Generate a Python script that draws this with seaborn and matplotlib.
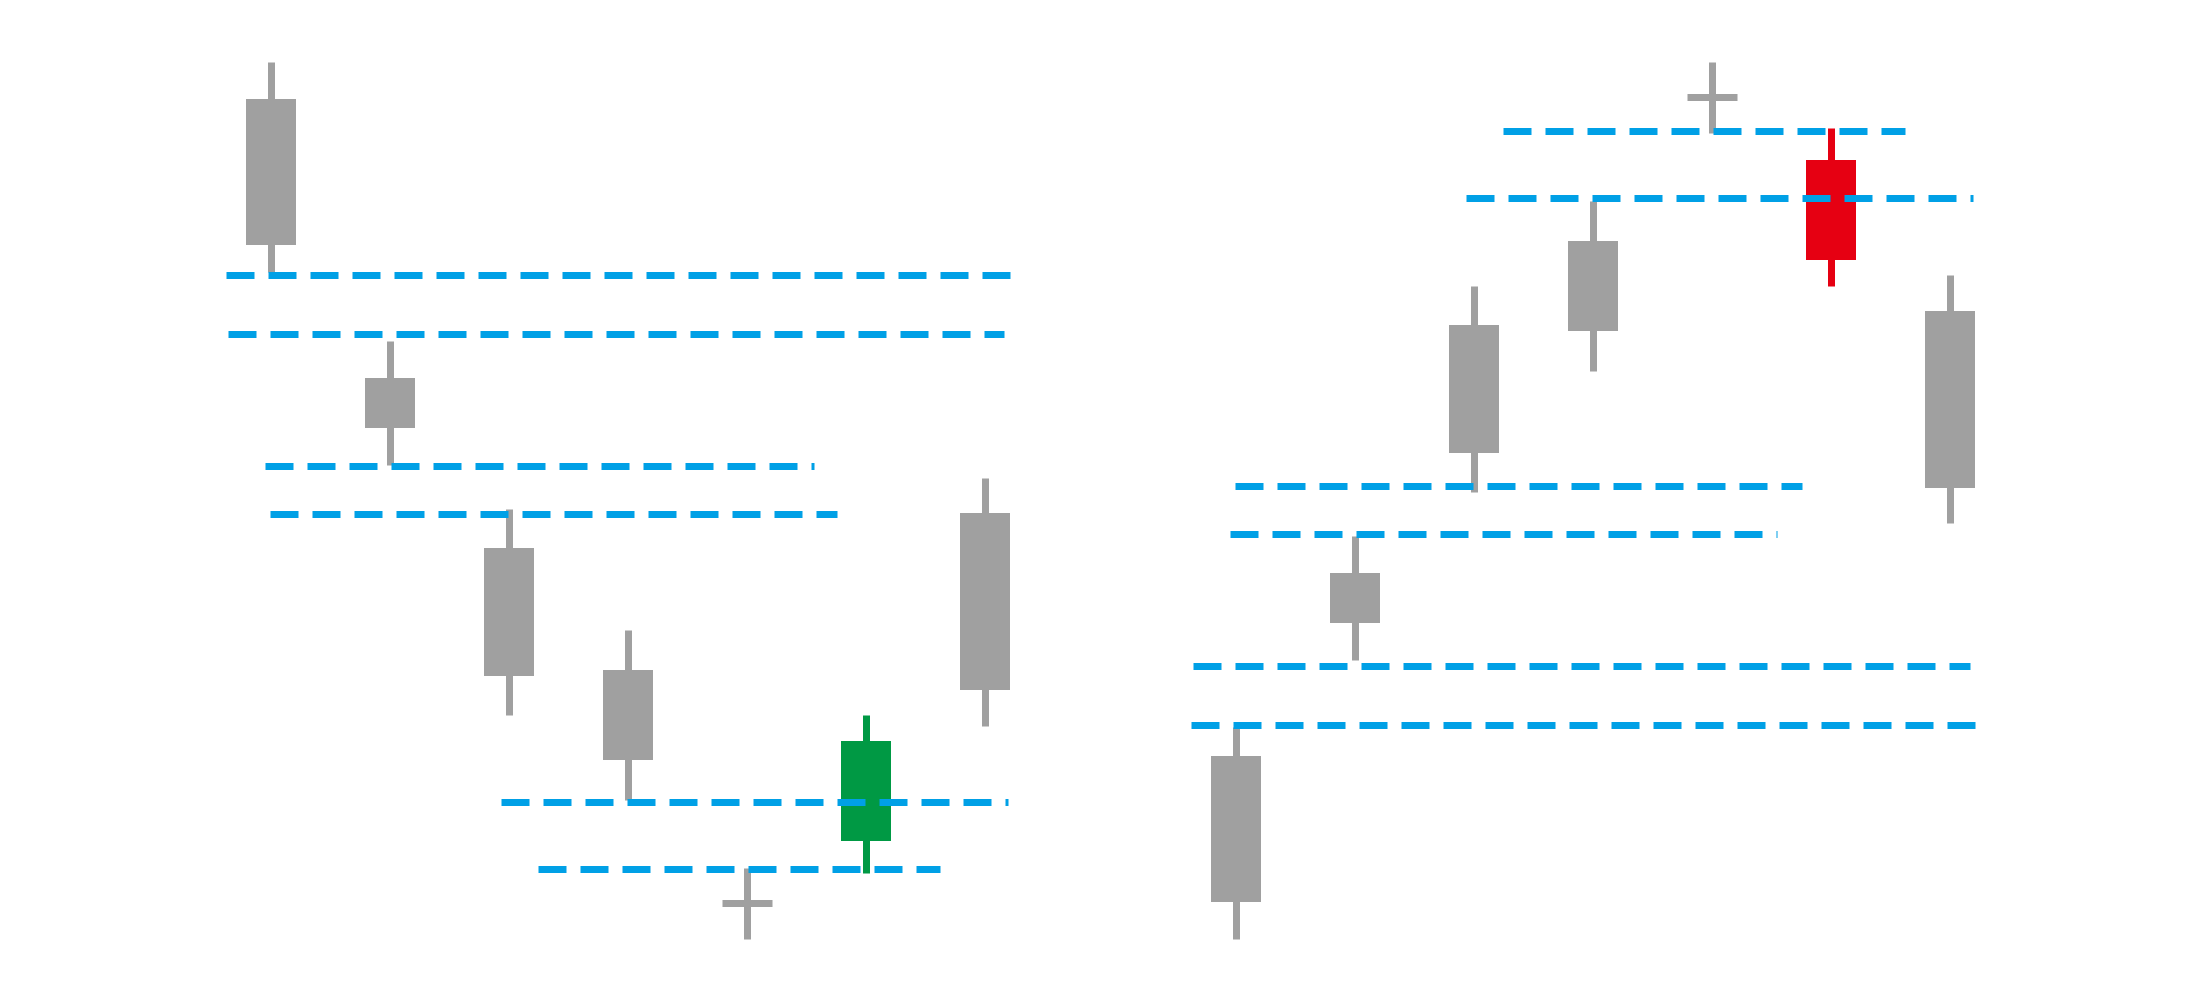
import matplotlib
matplotlib.use("Agg")
import matplotlib.pyplot as plt
import seaborn as sns
import pandas as pd

sns.set_theme(style="white")
plt.rcParams['font.family'] = ['DejaVu Sans']

# ---- data (price units) ----
left_open  = [90.1, 62.2, 45.2, 33.0, 9.7, 15.9, 48.7]
left_close = [75.5, 57.2, 32.4, 24.0, 9.7, 25.9, 31.0]
left_high  = [93.8, 65.9, 49.1, 37.0, 13.2, 28.5, 52.2]
left_low   = [72.8, 53.5, 28.5, 20.0, 6.1, 12.7, 27.4]
left_kind  = ["neutral", "neutral", "neutral", "neutral", "neutral", "up", "neutral"]

right_open  = [9.8, 37.7, 54.7, 66.9, 90.3, 84.0, 51.2]
right_close = [24.4, 42.7, 67.5, 75.9, 90.3, 74.0, 68.9]
right_high  = [27.3, 46.4, 71.4, 79.9, 93.8, 87.2, 72.5]
right_low   = [6.1, 34.0, 50.8, 62.9, 86.7, 71.4, 47.7]
right_kind  = ["neutral", "neutral", "neutral", "neutral", "neutral", "down", "neutral"]

left_levels      = [72.5, 66.6, 53.4, 48.6, 19.8, 13.1]
left_level_from  = [-0.38, -0.36, -0.05, -0.01, 1.93, 2.24]
left_level_to    = [6.21, 6.16, 4.56, 4.76, 6.19, 5.62]

right_levels     = [86.9, 80.2, 51.4, 46.6, 33.4, 27.5]
right_level_from = [2.24, 1.93, -0.01, -0.05, -0.36, -0.38]
right_level_to   = [5.62, 6.19, 4.76, 4.55, 6.17, 6.21]

colors = {"neutral": "#A0A0A0", "up": "#009944", "down": "#E60012"}
level_color = "#00A0E6"

fig = plt.figure(figsize=(22, 10), dpi=100)
ax_l = fig.add_axes([0, 0, 0.5, 1])
ax_r = fig.add_axes([0.5, 0, 0.5, 1])

LW = 5.04  # ~7 px
BODY_W = 0.42


def draw(ax, o, c, h, l, kind, lv, lf, lt):
    df = pd.DataFrame({"idx": range(len(o)), "open": o, "close": c,
                       "high": h, "low": l, "kind": kind})
    for _, r in df.iterrows():
        col = colors[r["kind"]]
        ax.vlines(r["idx"], r["low"], r["high"], colors=col, linewidth=LW,
                  capstyle="butt", zorder=2)
        lo, hi = min(r["open"], r["close"]), max(r["open"], r["close"])
        if hi - lo < 0.5:
            ax.hlines(lo, r["idx"] - BODY_W / 2, r["idx"] + BODY_W / 2,
                      colors=col, linewidth=LW, capstyle="butt", zorder=2)
        else:
            ax.bar(r["idx"], hi - lo, bottom=lo, width=BODY_W, color=col,
                   linewidth=0, zorder=2)
    for y, a, b in zip(lv, lf, lt):
        ax.plot([a, b], [y, y], color=level_color, linewidth=LW,
                linestyle=(0, (4, 2)), dash_capstyle="butt", zorder=3)


draw(ax_l, left_open, left_close, left_high, left_low, left_kind,
     left_levels, left_level_from, left_level_to)
draw(ax_r, right_open, right_close, right_high, right_low, right_kind,
     right_levels, right_level_from, right_level_to)

ax_l.set_xlim(-271 / 119, (1100 - 271) / 119)
ax_r.set_xlim((1100 - 1236) / 119, (2200 - 1236) / 119)
for ax in (ax_l, ax_r):
    ax.set_ylim(0, 100)
    ax.axis("off")

fig.savefig("out.png", dpi=100, facecolor="white")
